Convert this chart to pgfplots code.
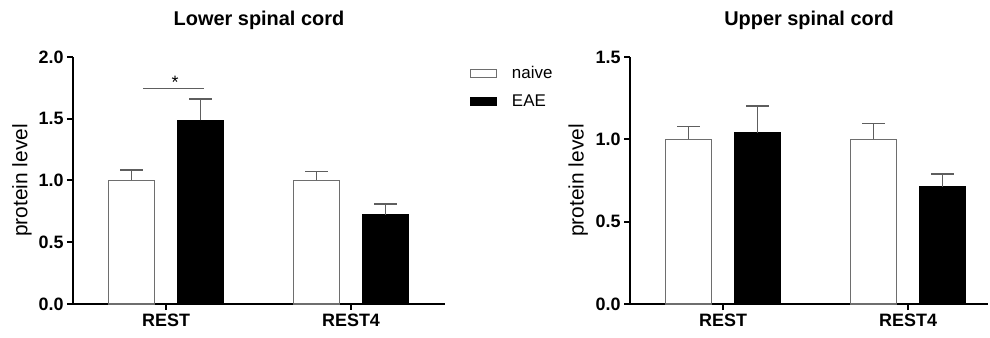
\documentclass[border=0pt]{standalone}
\usepackage{pgfplots}
\pgfplotsset{compat=1.18}
\usepackage{fontspec}
\setmainfont{Liberation Sans}
\definecolor{errgray}{HTML}{5E5E5E}
\definecolor{edgegray}{HTML}{6E6E6E}
\pgfplotsset{
  myaxis/.style={
    scale only axis,
    height=247bp,
    ymin=0,
    axis x line*=bottom,
    axis y line*=left,
    axis line style={line width=2.2bp, black, -},
    tick align=outside,
    major tick length=6bp,
    tick style={line width=2bp, black},
    xtick={0,1},
    xticklabels={REST,REST4},
    /pgf/number format/assume math mode=true,
    /pgf/number format/fixed,
    /pgf/number format/fixed zerofill,
    /pgf/number format/precision=1,
    ticklabel style={font=\bfseries\fontsize{18}{18}\selectfont},
    every axis y label/.style={at={(axis description cs:-0.137,0.5)}, rotate=90, anchor=center, font=\fontsize{21}{21}\selectfont},
    ylabel={protein level},
    title style={font=\bfseries\fontsize{20}{20}\selectfont, at={(0.5,1)}, anchor=base, yshift=26bp},
    clip=false,
  },
  barcommon/.style={ybar, bar width=46bp, bar shift=0pt, line width=1.2bp,
    error bars/.cd, y dir=plus, y explicit,
    error bar style={line width=1.5bp, errgray},
    error mark options={rotate=90, mark size=11.5bp, line width=1.5bp, errgray}},
  naive/.style={fill=white, draw=edgegray, barcommon},
  eae/.style={fill=black, draw=black, barcommon},
}
\begin{document}
\begin{tikzpicture}
\useasboundingbox (0,0) rectangle (990bp,338bp);
\begin{axis}[myaxis,
  at={(73bp,34bp)}, anchor=south west,
  width=372bp,
  xmin=-0.503, xmax=1.508, ymax=2,
  ytick={0,0.5,1.0,1.5,2.0},
  title={Lower spinal cord},
  legend style={at={(axis description cs:1.058,0.975)}, anchor=north west, draw=none, fill=none,
    font=\fontsize{17}{17}\selectfont, row sep=13bp, nodes={inner sep=1bp}},
  legend cell align=left,
  legend image code/.code={\draw[#1, line width=1.2bp] (0bp,-4bp) rectangle (26bp,4bp);},
]
\addplot[naive] coordinates {(-0.1865,1.0) +- (0,0.087) (0.8135,1.0) +- (0,0.074)};
\addlegendentry{\hspace{14bp}naive}
\addplot[eae] coordinates {(0.1865,1.487) +- (0,0.173) (1.1865,0.72) +- (0,0.09)};
\addlegendentry{\hspace{14bp}EAE}
\addplot[forget plot, line width=1.2bp, errgray] coordinates {(-0.124,1.743) (0.205,1.743)};
\node[font=\fontsize{18}{18}\selectfont, anchor=base] at (axis cs:0.049,1.743) {*};
\end{axis}
\begin{axis}[myaxis,
  at={(630bp,34bp)}, anchor=south west,
  width=358bp,
  xmin=-0.503, xmax=1.432, ymax=1.5,
  ytick={0,0.5,1.0,1.5},
  every axis y label/.style={at={(axis description cs:-0.145,0.5)}, rotate=90, anchor=center, font=\fontsize{21}{21}\selectfont},
  title={Upper spinal cord},
]
\addplot[naive] coordinates {(-0.1865,1.0) +- (0,0.077) (0.8135,1.0) +- (0,0.097)};
\addplot[eae] coordinates {(0.1865,1.038) +- (0,0.164) (1.1865,0.712) +- (0,0.077)};
\end{axis}
\end{tikzpicture}
\end{document}
